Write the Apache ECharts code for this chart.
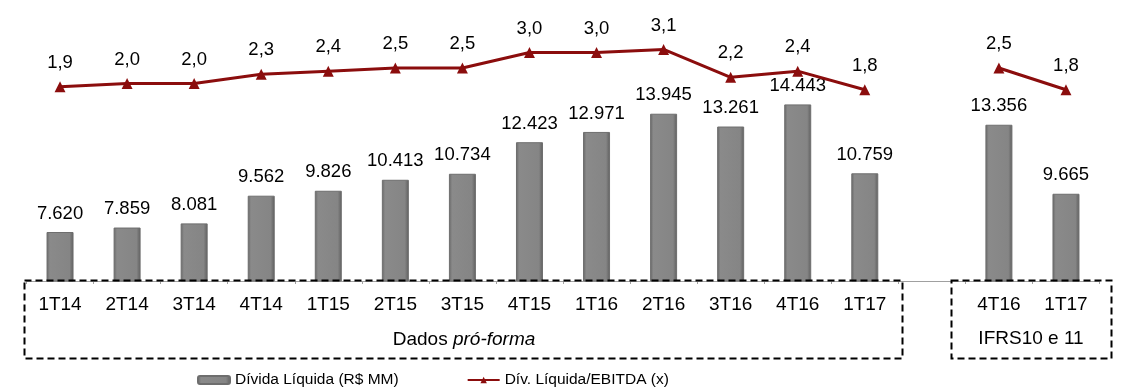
<!DOCTYPE html>
<html>
<head>
<meta charset="utf-8">
<script src="https://cdn.jsdelivr.net/npm/echarts@6/dist/echarts.min.js"></script>
<style>
  html, body { margin: 0; padding: 0; background: #fff; }
  #chart { width: 1123px; height: 387px; }
</style>
</head>
<body>
<div id="chart"></div>
<script>
// categorias (posição vazia separa pró-forma de IFRS)
const categorias = ['1T14', '2T14', '3T14', '4T14', '1T15', '2T15', '3T15', '4T15',
  '1T16', '2T16', '3T16', '4T16', '1T17', '', '4T16', '1T17'];
// Dívida Líquida (R$ MM)
const dividaLiquida = [7620, 7859, 8081, 9562, 9826, 10413, 10734, 12423,
  12971, 13945, 13261, 14443, 10759, null, 13356, 9665];
// Dív. Líquida/EBITDA (x)
const alavancagem = [1.9, 2.0, 2.0, 2.3, 2.4, 2.5, 2.5, 3.0,
  3.0, 3.1, 2.2, 2.4, 1.8, null, 2.5, 1.8];

const fonte = '"Liberation Sans", Arial, sans-serif';
const chart = echarts.init(document.getElementById('chart'));

const option = {
  backgroundColor: '#fff',
  animation: false,
  textStyle: { fontFamily: fonte },
  grid: { left: 26.5, right: 23.5, top: 20, bottom: 106 },
  legend: {
    left: 192,
    top: 367,
    itemGap: 68,
    itemWidth: 32,
    itemHeight: 8,
    textStyle: { fontFamily: fonte, fontSize: 15.5, color: '#000' },
    data: ['Dívida Líquida (R$ MM)', 'Dív. Líquida/EBITDA (x)']
  },
  xAxis: {
    type: 'category',
    data: categorias,
    axisLine: { onZero: false, lineStyle: { color: '#a0a0a0', width: 1 } },
    axisTick: { show: true, length: 3, lineStyle: { color: '#a0a0a0' } },
    axisLabel: { fontFamily: fonte, fontSize: 19, color: '#000', margin: 14, interval: 0 }
  },
  yAxis: [
    { type: 'value', min: 5000, max: 18957, show: false, splitLine: { show: false } },
    { type: 'value', min: -4.37, max: 4.05, show: false, splitLine: { show: false } }
  ],
  series: [
    {
      name: 'Dívida Líquida (R$ MM)',
      type: 'bar',
      barWidth: 27,
      data: dividaLiquida,
      itemStyle: {
        color: {
          type: 'linear', x: 0, y: 0, x2: 1, y2: 0,
          colorStops: [
            { offset: 0, color: '#666' },
            { offset: 0.12, color: '#8a8a8a' },
            { offset: 0.85, color: '#858585' },
            { offset: 1, color: '#5e5e5e' }
          ]
        },
        borderColor: '#6e6e6e',
        borderWidth: 1
      },
      label: {
        show: true,
        position: 'top',
        distance: 9,
        fontFamily: fonte,
        fontSize: 18.5,
        color: '#000',
        formatter: p => p.value == null ? '' : p.value.toLocaleString('de-DE')
      }
    },
    {
      name: 'Dív. Líquida/EBITDA (x)',
      type: 'line',
      yAxisIndex: 1,
      data: alavancagem,
      connectNulls: false,
      symbol: 'triangle',
      symbolSize: 11,
      lineStyle: { color: '#8b0d0d', width: 3 },
      itemStyle: { color: '#8b0d0d' },
      label: {
        show: true,
        position: 'top',
        distance: 9,
        fontFamily: fonte,
        fontSize: 18.5,
        color: '#000',
        formatter: p => p.value == null ? '' : p.value.toFixed(1).replace('.', ',')
      }
    }
  ],
  graphic: [
    // caixas tracejadas sob o eixo
    {
      type: 'rect', z: 100,
      shape: { x: 24.5, y: 280.5, width: 878, height: 78 },
      style: { fill: 'none', stroke: '#000', lineWidth: 2, lineDash: [7, 4] }
    },
    {
      type: 'rect', z: 100,
      shape: { x: 951.5, y: 280.5, width: 160, height: 78 },
      style: { fill: 'none', stroke: '#000', lineWidth: 2, lineDash: [7, 4] }
    },
    {
      type: 'text', z: 100,
      x: 464, y: 340,
      style: {
        text: '{a|Dados }{b|pró-forma}',
        align: 'center', verticalAlign: 'middle',
        rich: {
          a: { fontFamily: fonte, fontSize: 19, fill: '#000' },
          b: { fontFamily: fonte, fontSize: 19, fontStyle: 'italic', fill: '#000' }
        }
      }
    },
    {
      type: 'text', z: 100,
      x: 1031, y: 339,
      style: {
        text: 'IFRS10 e 11',
        align: 'center', verticalAlign: 'middle',
        fontFamily: fonte, fontSize: 19, fill: '#000'
      }
    }
  ]
};

chart.setOption(option);
</script>
</body>
</html>
